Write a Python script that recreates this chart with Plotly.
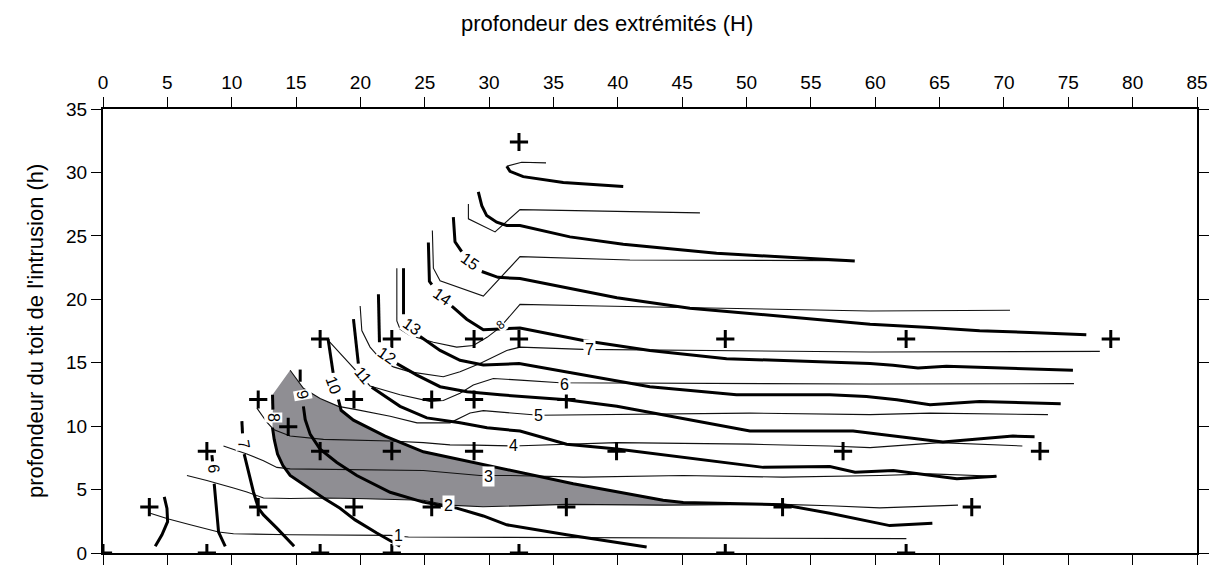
import plotly.graph_objects as go

# ---------------- data ----------------
x_ticks = list(range(0, 90, 5))
y_ticks = list(range(0, 40, 5))

# sample points (+)
pts_H = [0, 8.07, 16.87, 22.44, 32.32, 48.35, 62.4,
         3.6, 12.06, 19.5, 25.54, 36.0, 52.8, 67.5,
         8.07, 16.87, 22.44, 28.83, 39.9, 57.5, 72.8,
         14.39,
         12.06, 19.5, 25.54, 28.83, 36.0,
         16.87, 22.44, 28.83, 32.32, 48.35, 62.4, 78.3,
         32.32]
pts_h = [0, 0, 0, 0, 0, 0, 0,
         3.62, 3.62, 3.62, 3.62, 3.62, 3.62, 3.62,
         8.03, 8.03, 8.03, 8.03, 8.03, 8.03, 8.03,
         9.95,
         12.1, 12.1, 12.1, 12.1, 12.1,
         16.87, 16.87, 16.87, 16.87, 16.87, 16.87, 16.87,
         32.4]

# thick iso-lines (None = gap where the label sits)
thick5_x = [4.76, 4.97, 5.02, 4.58, 4.06]
thick5_y = [4.42, 3.52, 2.47, 1.44, 0.53]
thick6_x = [8.46, 8.51, None, 8.64, 8.80, 8.98, 9.50]
thick6_y = [7.72, 7.22, None, 5.46, 3.52, 1.65, 0.53]
thick7_x = [10.79, 10.84, None, 10.97, 11.30, 11.69, 12.08, 12.47, 13.51, 14.85]
thick7_y = [10.39, 9.43, None, 7.80, 6.37, 4.81, 3.52, 3.00, 1.96, 0.53]
thick8_x = [13.17, 13.20, None, 13.17, 13.30, 13.56, 13.98, 14.54, 15.84, 17.13, 18.42, 19.59, 21.27, 23.08]
thick8_y = [12.47, 11.30, None, 9.87, 8.96, 7.80, 6.89, 6.11, 5.20, 4.34, 3.52, 2.61, 1.57, 0.53]
thick9_x = [15.32, 15.32, None, 15.57, 15.71, 16.10, 16.87, 18.17, 19.72, 22.31, 24.89, 26.19, 27.48, 29.55, 31.37, 36.02, 42.24]
thick9_y = [14.46, 13.50, None, 11.56, 10.52, 9.35, 8.19, 7.14, 6.11, 4.79, 4.01, 3.77, 3.54, 2.92, 2.22, 1.44, 0.48]
thick10_x = [17.49, 17.88, None, 18.29, 18.50, 19.46, 21.92, 24.89, 26.96, 31.37, 36.54, 43.52, 45.08, 52.82, 56.47, 61.13, 64.44]
thick10_y = [16.85, 14.20, None, 12.10, 11.25, 10.47, 9.22, 7.98, 7.53, 6.63, 5.46, 4.16, 3.98, 3.81, 3.13, 2.16, 2.35]
thick11_x = [19.46, 19.84, None, 20.88, 23.08, 25.16, 27.74, 29.84, 32.40, 36.02, 39.93, 51.30, 56.47, 58.43, 61.41, 66.34, 69.42]
thick11_y = [18.43, 14.93, None, 13.06, 11.56, 10.65, 10.26, 9.87, 9.61, 8.58, 8.19, 6.75, 6.81, 6.37, 6.50, 5.85, 6.05]
thick12_x = [21.40, 21.48, None, 22.83, 24.39, 26.19, 28.29, 30.85, 36.02, 39.93, 50.26, 58.28, 61.68, 65.26, 70.70, 72.38]
thick12_y = [20.40, 16.62, None, 14.93, 14.02, 13.11, 12.72, 12.47, 12.08, 11.56, 9.61, 9.61, 9.22, 8.75, 9.22, 9.17]
thick13_x = [23.35, 23.35, None, 24.64, 26.19, 27.74, 29.55, 32.33, 37.31, 42.49, 49.22, 56.47, 59.32, 61.68, 64.26, 68.11, 74.41]
thick13_y = [22.45, 18.82, None, 17.06, 15.97, 15.19, 14.82, 14.93, 14.02, 13.11, 12.47, 12.47, 12.33, 12.08, 11.69, 11.95, 11.77]
thick14_x = [25.28, 25.36, 25.55, None, 27.10, 28.26, 29.55, 32.40, 37.31, 42.49, 48.45, 59.60, 61.38, 63.32, 65.53, 75.36]
thick14_y = [24.47, 21.42, 21.15, None, 19.47, 18.43, 17.60, 17.73, 16.75, 15.97, 15.32, 14.93, 14.80, 14.59, 14.72, 14.41]
thick15_x = [27.22, 27.35, 27.87, None, 29.43, 30.69, 32.40, 39.93, 45.60, 59.60, 64.26, 68.11, 72.00, 76.40]
thick15_y = [26.47, 24.53, 23.75, None, 22.19, 21.73, 21.63, 20.12, 19.30, 18.04, 17.78, 17.52, 17.39, 17.21]
thick16_x = [29.16, 29.43, 29.81, 30.59, 31.37, 32.40, 36.28, 40.42, 47.67, 58.41]
thick16_y = [28.47, 27.38, 26.60, 26.08, 25.82, 25.82, 24.92, 24.34, 23.62, 23.02]
thick17_x = [31.37, 31.62, 32.65, 35.76, 40.42]
thick17_y = [30.49, 30.08, 29.67, 29.20, 28.89]

# thin iso-lines
thin1_x = [3.67, 5.09, 6.78, 8.98, 10.14, 14.54, 22.31, 23.73, 31.62, 59.60, 62.42]
thin1_y = [3.13, 2.68, 2.22, 1.65, 1.52, 1.44, 1.39, 1.26, 1.23, 1.18, 1.13]
thin2_x = [6.52, 8.07, 10.14, 11.18, 12.47, 14.54, 17.13, 19.72, 24.89, 26.83, 29.53, 36.02, 43.53, 52.82, 56.47, 60.35, 66.43]
thin2_y = [6.11, 5.72, 5.12, 4.81, 4.34, 4.30, 4.34, 4.30, 4.16, 3.77, 3.64, 3.83, 3.77, 3.83, 3.72, 3.56, 3.77]
thin3_x = [9.36, 11.18, 12.47, 13.51, 14.54, 19.72, 24.89, 29.29, 31.62, 37.31, 45.08, 52.82, 60.35, 64.26, 68.11, 69.42]
thin3_y = [8.44, 7.80, 7.28, 6.75, 6.63, 6.58, 6.50, 6.11, 6.11, 5.98, 6.11, 5.98, 6.11, 6.24, 6.11, 6.05]
thin4_x = [11.96, 12.73, 13.25, 14.54, 17.13, 22.31, 24.89, 26.96, 28.93, 31.88, 39.93, 50.26, 56.47, 59.60, 65.01, 71.43]
thin4_y = [11.42, 10.31, 9.74, 9.22, 8.96, 8.83, 8.70, 8.52, 8.50, 8.44, 8.70, 8.58, 8.44, 8.31, 8.70, 8.44]
thin5_x = [14.54, 15.57, 16.87, 18.29, 19.59, 22.31, 24.40, 26.96, 28.52, 29.55, 33.87, 50.26, 59.60, 64.26, 73.42]
thin5_y = [14.41, 12.98, 12.18, 11.56, 11.32, 10.78, 10.26, 10.26, 11.03, 11.22, 10.86, 11.03, 10.91, 11.03, 10.91]
thin6_x = [17.39, 19.72, 20.75, 23.08, 25.41, 26.44, 27.74, 28.77, 30.33, 32.40, 35.51, 59.60, 75.44]
thin6_y = [16.87, 14.28, 13.17, 12.47, 11.95, 12.02, 12.59, 13.24, 13.76, 13.63, 13.42, 13.32, 13.35]
thin7_x = [19.98, 20.11, 20.75, 21.53, 22.56, 23.86, 26.44, 27.74, 29.29, 31.37, 32.40, 37.31, 59.60, 77.45]
thin7_y = [19.47, 17.53, 16.23, 15.32, 14.67, 14.28, 13.89, 14.28, 14.93, 15.97, 16.23, 16.05, 15.84, 15.89]
thin8_x = [22.83, 22.83, 23.08, 23.86, 25.67, 27.48, 28.77, 29.84, 30.85, 32.40, 38.61, 59.60, 70.47]
thin8_y = [22.45, 18.30, 17.65, 17.14, 16.61, 16.23, 16.36, 17.00, 17.78, 19.60, 19.47, 19.08, 19.13]
thin9_x = [25.59, 25.67, 26.19, 29.55, 32.40, 40.94, 58.18]
thin9_y = [25.43, 22.45, 21.46, 20.25, 23.36, 23.10, 23.04]
thin10_x = [28.39, 28.39, 30.46, 32.40, 46.38]
thin10_y = [27.51, 26.34, 25.31, 27.07, 26.81]
thin11_x = [31.37, 32.53, 34.42]
thin11_y = [30.49, 30.80, 30.75]

# shaded domain
zone_x = [14.54, 15.57, 16.87, 18.29, 18.50, 19.46, 21.92, 24.89, 26.96, 31.37, 36.54, 43.52, 45.08, 52.82,
          43.53, 36.02, 29.53, 26.83, 24.89, 19.72, 17.13,
          15.84, 14.54, 13.98, 13.56, 13.30, 13.17, 13.20, 13.17]
zone_y = [14.41, 12.98, 12.18, 11.56, 11.25, 10.47, 9.22, 7.98, 7.53, 6.63, 5.46, 4.16, 3.98, 3.81,
          3.77, 3.83, 3.64, 3.77, 4.16, 4.30, 4.34,
          5.20, 6.11, 6.89, 7.80, 8.96, 9.87, 11.30, 12.47]

# contour labels: text, H, h, angle
thick_lbl_text = ["6", "7", "8", "9", "10", "11", "12", "13", "14", "15"]
thick_lbl_x = [8.59, 10.97, 13.20, 15.50, 17.90, 20.23, 22.05, 23.99, 26.32, 28.52]
thick_lbl_y = [6.63, 8.58, 10.65, 12.47, 13.19, 14.02, 15.58, 17.86, 20.19, 22.97]
thick_lbl_ang = [85, 80, 90, 80, 70, 50, 35, 35, 35, 35]

thin_lbl_text = ["1", "2", "3", "4", "5", "6", "7"]
thin_lbl_x = [22.95, 26.83, 29.94, 31.88, 33.87, 35.89, 37.83]
thin_lbl_y = [1.37, 3.77, 6.03, 8.44, 10.86, 13.32, 16.05]

small_lbl_text = ["8"]
small_lbl_x = [30.85]
small_lbl_y = [18.0]

# ---------------- figure ----------------
FONT = "Liberation Sans, Arial, sans-serif"
fig = go.Figure()

fig.add_trace(go.Scatter(x=zone_x, y=zone_y, mode="lines", fill="toself",
                         fillcolor="#8f8e93", line=dict(width=0), hoverinfo="skip",
                         showlegend=False))

thin_lines = [(thin1_x, thin1_y), (thin2_x, thin2_y), (thin3_x, thin3_y), (thin4_x, thin4_y),
              (thin5_x, thin5_y), (thin6_x, thin6_y), (thin7_x, thin7_y), (thin8_x, thin8_y),
              (thin9_x, thin9_y), (thin10_x, thin10_y), (thin11_x, thin11_y)]
for xs, ys in thin_lines:
    fig.add_trace(go.Scatter(x=xs, y=ys, mode="lines", line=dict(color="#111111", width=1.1),
                             connectgaps=False, showlegend=False, hoverinfo="skip"))

thick_lines = [(thick5_x, thick5_y), (thick6_x, thick6_y), (thick7_x, thick7_y), (thick8_x, thick8_y),
               (thick9_x, thick9_y), (thick10_x, thick10_y), (thick11_x, thick11_y),
               (thick12_x, thick12_y), (thick13_x, thick13_y), (thick14_x, thick14_y),
               (thick15_x, thick15_y), (thick16_x, thick16_y), (thick17_x, thick17_y)]
for xs, ys in thick_lines:
    fig.add_trace(go.Scatter(x=xs, y=ys, mode="lines", line=dict(color="black", width=3),
                             connectgaps=False, showlegend=False, hoverinfo="skip"))

fig.add_trace(go.Scatter(x=pts_H, y=pts_h, mode="markers",
                         marker=dict(symbol="cross-thin", size=13,
                                     line=dict(color="black", width=3)),
                         showlegend=False, hoverinfo="skip"))

annotations = []
for t, x, y, a in zip(thick_lbl_text, thick_lbl_x, thick_lbl_y, thick_lbl_ang):
    annotations.append(dict(x=x, y=y, xref="x", yref="y", text=t, showarrow=False,
                            textangle=a, bgcolor="white", borderpad=0,
                            font=dict(family=FONT, size=16, color="black")))
for t, x, y in zip(thin_lbl_text, thin_lbl_x, thin_lbl_y):
    annotations.append(dict(x=x, y=y, xref="x", yref="y", text=t, showarrow=False,
                            bgcolor="white", borderpad=1,
                            font=dict(family=FONT, size=16, color="black")))
for t, x, y in zip(small_lbl_text, small_lbl_x, small_lbl_y):
    annotations.append(dict(x=x, y=y, xref="x", yref="y", text=t, showarrow=False,
                            textangle=-40, bgcolor="white", borderpad=0,
                            font=dict(family=FONT, size=12, color="black")))

# plot area in the page: x 103..1197, y 109..558.5 (page has an 8px body margin)
annotations.append(dict(text="profondeur des extrémités (H)", xref="paper", yref="paper",
                        x=(607 - 103) / 1094, y=(558.5 - 22) / 449.5,
                        showarrow=False, xanchor="center", yanchor="middle",
                        font=dict(family=FONT, size=22, color="black")))
annotations.append(dict(text="profondeur du toit de l'intrusion (h)", xref="paper", yref="paper",
                        x=(35 - 103) / 1094, y=0.5, textangle=-90,
                        showarrow=False, xanchor="center", yanchor="middle",
                        font=dict(family=FONT, size=22, color="black")))

fig.update_layout(
    width=1221, height=569,
    margin=dict(l=95, r=32, t=101, b=18.5),
    paper_bgcolor="white", plot_bgcolor="white",
    font=dict(family=FONT, size=18, color="black"),
    annotations=annotations,
    xaxis=dict(range=[0, 85], side="top", tickvals=x_ticks, ticks="outside", ticklen=10,
               tickwidth=1.2, tickcolor="black", showline=True, linewidth=2, linecolor="black",
               mirror="ticks", showgrid=False, zeroline=False,
               tickfont=dict(family=FONT, size=19, color="black")),
    yaxis=dict(range=[0, 35], tickvals=y_ticks, ticks="outside", ticklen=10,
               tickwidth=1.2, tickcolor="black", showline=True, linewidth=2, linecolor="black",
               mirror="ticks", showgrid=False, zeroline=False,
               tickfont=dict(family=FONT, size=19, color="black")),
)

fig.write_html("out.html")
